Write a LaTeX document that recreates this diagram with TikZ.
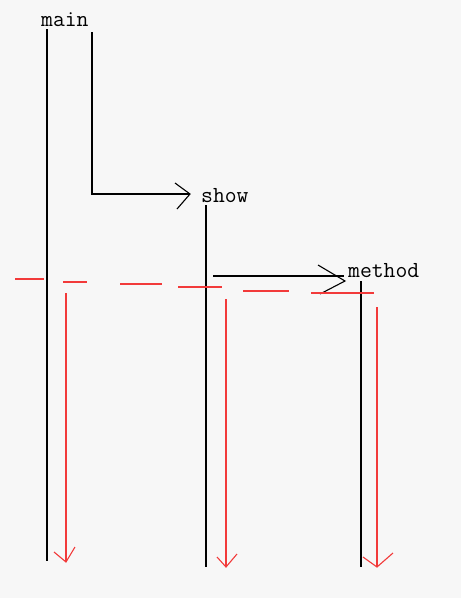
\documentclass[tikz,border=0pt]{standalone}
\definecolor{bg}{HTML}{F7F7F7}
\definecolor{redline}{HTML}{F23A3A}
\tikzset{
  lbl/.style={anchor=base west, inner sep=0pt, font=\ttfamily\fontsize{23}{27}\selectfont},
  blk/.style={draw=black, line width=1.1pt},
  rdl/.style={draw=redline, line width=1.1pt},
}
\begin{document}
\begin{tikzpicture}[x=1pt,y=-1pt]
\fill[bg] (0,0) rectangle (461,598);
\useasboundingbox (0,0) rectangle (461,598);
% labels
\node[lbl] (main) at (41,26) {main};
\node[lbl] (show) at (201,202) {show};
\node[lbl] (method) at (348,277) {method};
% lifelines
\coordinate (mainTop) at (47,29);   \coordinate (mainBot) at (47,561);
\coordinate (showTop) at (206,205); \coordinate (showBot) at (206,567);
\coordinate (methTop) at (361,281); \coordinate (methBot) at (361,567);
\draw[blk] (mainTop) -- (mainBot);
\draw[blk] (showTop) -- (showBot);
\draw[blk] (methTop) -- (methBot);
% call main -> show
\coordinate (c1a) at (92,32); \coordinate (c1b) at (92,194); \coordinate (c1tip) at (190,194);
\draw[blk] (c1a) -- (c1b) -- (c1tip);
\draw[blk] (175,183) -- (c1tip) -- (177,209);
% call show -> method
\coordinate (c2a) at (213,276); \coordinate (c2tip) at (345,281);
\draw[blk] (c2a) -- (344,276);
\draw[blk] (318,265) -- (c2tip) -- (320,294);
% red dashed cut line
\draw[rdl] (15,279) -- (44,279);
\draw[rdl] (63,282) -- (87,282);
\draw[rdl] (120,284) -- (162,284);
\draw[rdl] (178,287) -- (222,287);
\draw[rdl] (243,291) -- (289,291);
\draw[rdl] (311,293) -- (374,293);
% red downward arrows
\coordinate (r1a) at (66,293);  \coordinate (r1b) at (66,562);
\coordinate (r2a) at (226,299); \coordinate (r2b) at (226,567);
\coordinate (r3a) at (377,307); \coordinate (r3b) at (377,567);
\draw[rdl] (r1a) -- (r1b);
\draw[rdl] (54,552) -- (r1b) -- (75,547);
\draw[rdl] (r2a) -- (r2b);
\draw[rdl] (217,557) -- (r2b) -- (237,554);
\draw[rdl] (r3a) -- (r3b);
\draw[rdl] (363,557) -- (r3b) -- (393,553);
\end{tikzpicture}
\end{document}
